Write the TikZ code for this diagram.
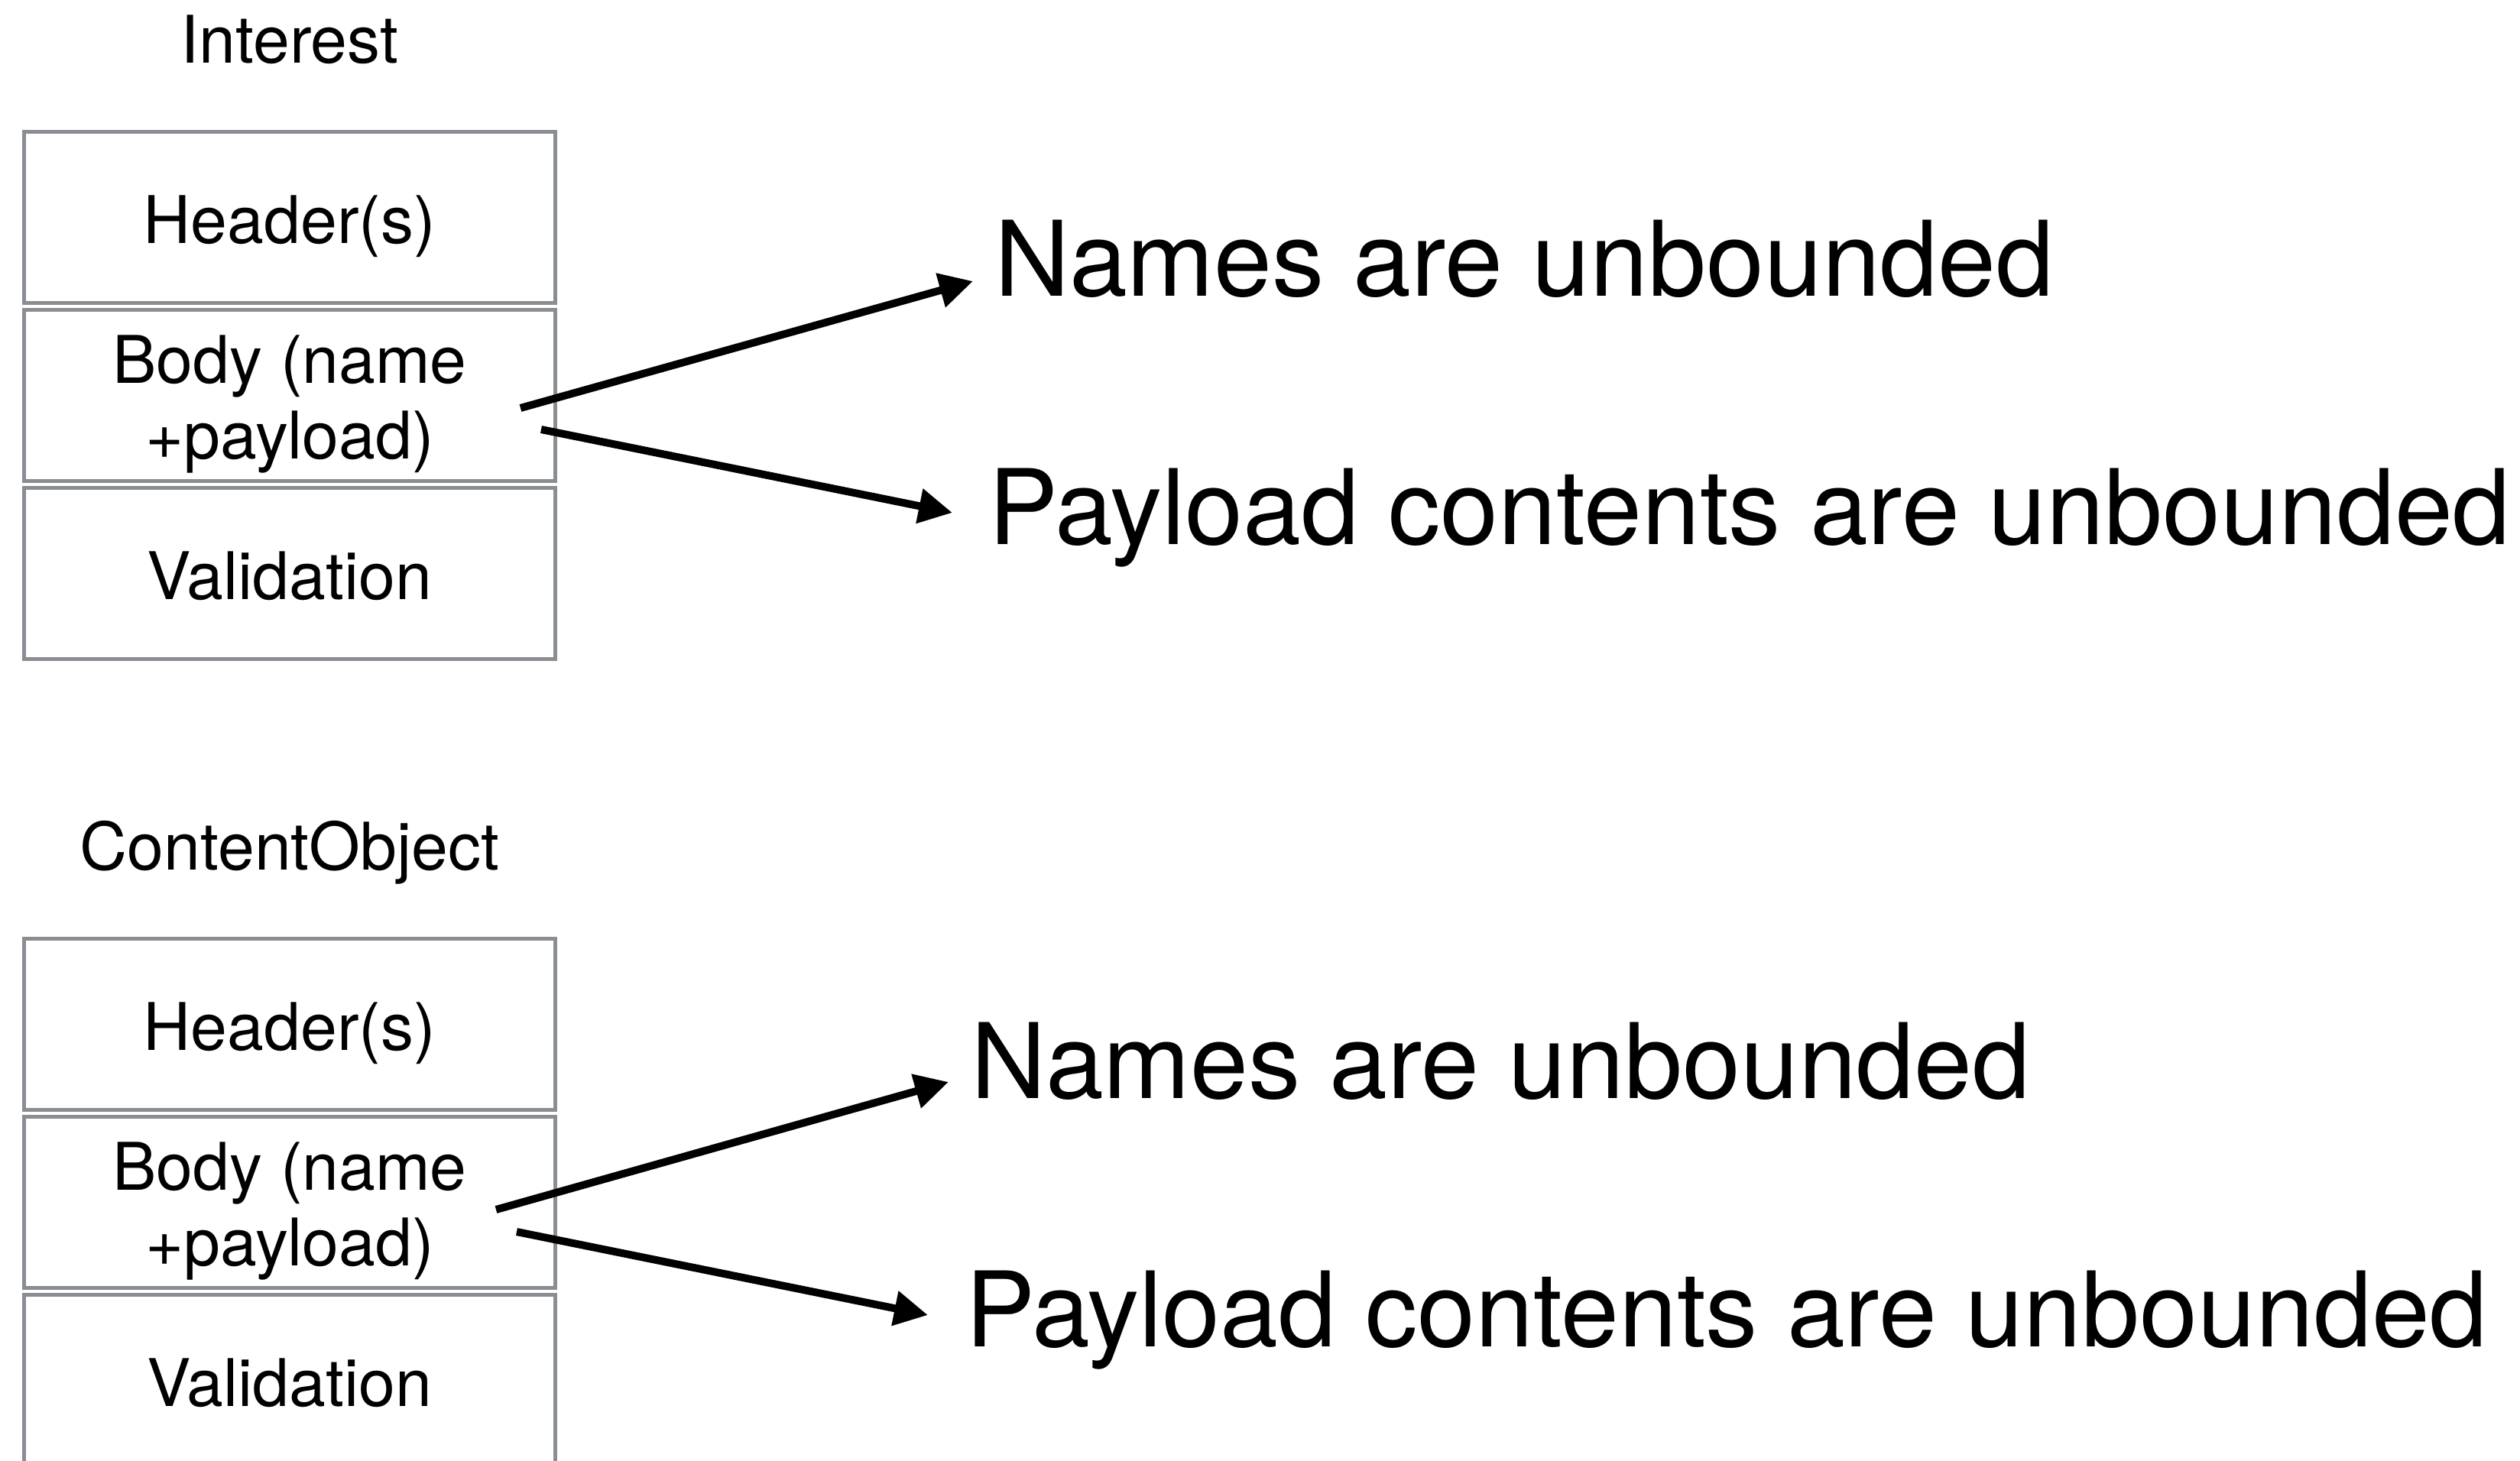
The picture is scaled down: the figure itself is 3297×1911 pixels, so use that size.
\documentclass[tikz,border=0pt]{standalone}
\usepackage{fontspec}
\setmainfont{TeX Gyre Heros}
\usetikzlibrary{arrows.meta}
\definecolor{boxgray}{HTML}{8A8D91}
\begin{document}
\begin{tikzpicture}[x=1pt,y=-1pt,
  field/.style={draw=boxgray, line width=5.2pt, rectangle, inner sep=0pt,
                minimum width=695pt, minimum height=224pt},
  fieldtext/.style={inner sep=0pt, anchor=base, align=center,
                    font=\fontsize{86}{99}\selectfont},
  claim/.style={inner sep=0pt, anchor=base west,
                font=\fontsize{136.5}{160}\selectfont},
  arr/.style={line width=10pt, -{Triangle[length=44pt,width=44pt]}}
]
\useasboundingbox (0,0) rectangle (3297,1911);
\clip (0,0) rectangle (3297,1911);

% ---- Interest packet ----
\node[fieldtext] (ititle) at (379,82) {Interest};
\node[field] (ihdr)  at (379,284.5) {};
\node[field] (ibody) at (379,517.5) {};
\node[field] (ival)  at (379,750.5) {};
\node[fieldtext] (ihdrt)  at (379,318.5) {Header(s)};
% anchor=base sits on the last line of the two
\node[fieldtext] (ibodyt) at (379,600.7) {Body (name\\+payload)};
\node[fieldtext] (ivalt)  at (379,784.7) {Validation};

\node[claim] (iname) at (1301,387) {Names are unbounded};
\node[claim] (ipay)  at (1293,712) {Payload contents are unbounded};

\coordinate (is1) at (681,534);
\coordinate (it1) at (1273,368);
\coordinate (is2) at (708,562);
\coordinate (it2) at (1246,671);
\draw[arr] (is1) -- (it1);
\draw[arr] (is2) -- (it2);

% ---- ContentObject packet ----
\node[fieldtext] (ctitle) at (379,1138) {ContentObject};
\node[field] (chdr)  at (379,1340.5) {};
\node[field] (cbody) at (379,1573.5) {};
\node[field] (cval)  at (379,1806.5) {};
\node[fieldtext] (chdrt)  at (379,1374.5) {Header(s)};
\node[fieldtext] (cbodyt) at (379,1656.7) {Body (name\\+payload)};
\node[fieldtext] (cvalt)  at (379,1840.7) {Validation};

\node[claim] (cname) at (1270,1437) {Names are unbounded};
\node[claim] (cpay)  at (1263,1762) {Payload contents are unbounded};

\coordinate (cs1) at (649,1583);
\coordinate (ct1) at (1241,1416);
\coordinate (cs2) at (676,1612);
\coordinate (ct2) at (1214,1721);
\draw[arr] (cs1) -- (ct1);
\draw[arr] (cs2) -- (ct2);
\end{tikzpicture}
\end{document}
